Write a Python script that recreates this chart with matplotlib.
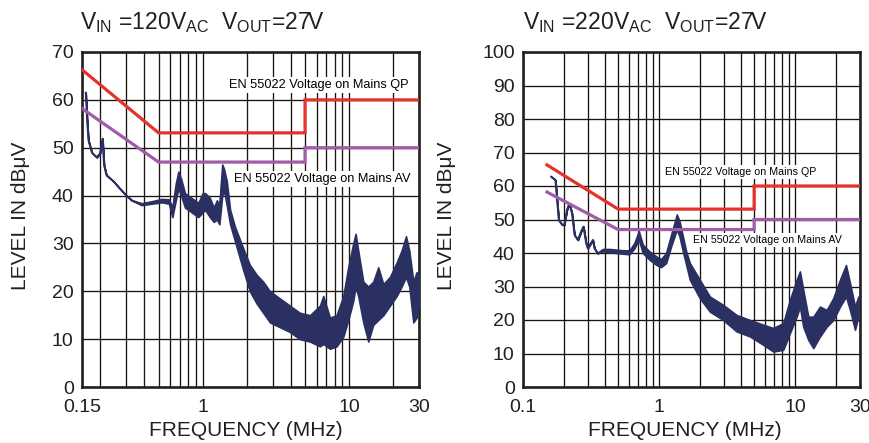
import numpy as np
import matplotlib
matplotlib.use("Agg")
import matplotlib.pyplot as plt
from matplotlib import font_manager
from matplotlib.ticker import LogLocator, NullFormatter, FixedLocator

plt.rcParams['font.family'] = ['Liberation Sans', 'DejaVu Sans']
plt.rcParams['mathtext.default'] = 'regular'

# ---------------- data ----------------
limit_freq = [0.15, 0.5, 5.0, 5.0, 30.0]
qp_limit = [66.3, 53.1, 53.1, 60.0, 60.0]
av_limit = [58.2, 47.0, 47.0, 50.0, 50.0]

left_freq = [0.159, 0.163, 0.166, 0.175, 0.189, 0.199, 0.207, 0.212, 0.220, 0.233,
             0.246, 0.266, 0.295, 0.328, 0.383, 0.448, 0.525, 0.589, 0.621, 0.655,
             0.683, 0.712, 0.757, 0.840, 0.934, 1.00, 1.04, 1.12, 1.19, 1.25,
             1.30, 1.36, 1.40, 1.46, 1.54, 1.66, 1.89, 2.10, 2.33, 2.59,
             2.88, 3.37, 3.94, 4.61, 5.40, 6.32, 6.66, 7.39, 8.21, 9.12,
             9.86, 10.67, 11.07, 11.54, 12.49, 13.51, 14.61, 15.81, 17.11, 19.00,
             21.10, 22.83, 24.44, 25.75, 27.43, 28.90, 29.80]
left_low = [61.5, 55.0, 51.5, 49.0, 48.0, 48.8, 51.9, 46.4, 44.3, 43.6,
            43.0, 41.8, 40.3, 39.0, 38.0, 38.3, 38.6, 38.3, 35.5, 39.0,
            41.5, 40.0, 37.5, 36.5, 35.5, 36.5, 37.0, 35.5, 34.5, 35.0,
            34.0, 40.0, 41.0, 38.0, 34.0, 30.5, 24.5, 20.0, 17.5, 15.5,
            13.5, 12.5, 11.5, 10.0, 9.5, 8.5, 9.0, 8.0, 8.5, 10.5,
            14.0, 18.0, 21.0, 19.0, 13.5, 9.5, 13.0, 14.0, 15.0, 17.0,
            19.0, 21.0, 23.0, 21.0, 13.5, 14.5, 17.0]
left_high = [61.5, 55.0, 51.5, 49.0, 48.0, 48.8, 51.9, 46.4, 44.3, 43.6,
             43.0, 41.8, 40.3, 39.0, 38.4, 38.8, 39.3, 39.2, 37.5, 42.5,
             45.0, 43.5, 40.5, 39.5, 38.5, 40.5, 40.5, 39.5, 37.5, 39.0,
             38.0, 46.5, 45.5, 43.0, 37.0, 33.5, 29.0, 25.5, 23.5, 22.0,
             20.0, 18.5, 17.0, 15.5, 15.0, 17.0, 19.0, 14.5, 15.0, 19.0,
             25.0, 30.0, 32.0, 28.5, 22.0, 21.0, 22.0, 25.0, 21.5, 23.0,
             26.0, 28.5, 31.5, 28.5, 22.0, 24.0, 23.5]

right_freq = [0.161, 0.173, 0.177, 0.183, 0.194, 0.201, 0.210, 0.219, 0.229, 0.239,
              0.253, 0.267, 0.278, 0.291, 0.299, 0.326, 0.335, 0.354, 0.386, 0.432,
              0.483, 0.541, 0.606, 0.659, 0.710, 0.759, 0.850, 0.952, 1.036, 1.127,
              1.227, 1.351, 1.413, 1.496, 1.583, 1.684, 1.994, 2.363, 2.961, 3.712,
              4.653, 5.833, 6.909, 8.185, 9.162, 10.26, 10.85, 11.48, 12.50, 13.61,
              15.23, 17.06, 19.09, 21.38, 23.66, 25.33, 27.56, 29.16]
right_low = [62.8, 61.8, 56.8, 49.9, 48.4, 48.4, 52.8, 54.8, 51.8, 45.4,
             43.9, 46.4, 47.9, 42.9, 41.4, 43.9, 41.4, 39.9, 40.5, 40.2,
             40.0, 39.8, 39.6, 41.4, 44.0, 40.0, 38.0, 36.5, 35.8, 37.0,
             42.0, 47.0, 45.0, 40.5, 36.5, 32.0, 26.5, 22.5, 20.0, 16.6,
             15.1, 12.6, 10.6, 11.1, 16.1, 21.0, 24.0, 18.0, 14.1, 11.6,
             15.1, 18.0, 20.0, 24.0, 27.0, 23.0, 17.1, 21.0]
right_high = [62.8, 61.8, 56.8, 49.9, 48.4, 48.4, 52.8, 54.8, 51.8, 45.4,
              43.9, 46.4, 47.9, 42.9, 41.4, 43.9, 41.4, 39.9, 41.2, 41.2,
              41.0, 40.8, 40.8, 43.0, 46.5, 42.5, 40.5, 39.0, 38.2, 40.0,
              45.5, 51.5, 49.5, 45.0, 40.5, 37.0, 32.0, 27.0, 24.5, 21.5,
              20.0, 18.6, 17.6, 19.1, 26.0, 32.0, 34.5, 29.0, 21.0, 21.0,
              24.0, 23.0, 26.5, 32.0, 36.4, 31.0, 24.0, 27.0]

titles = [r'$V_{IN}$ =120$V_{AC}$  $V_{OUT}$=27V', r'$V_{IN}$ =220$V_{AC}$  $V_{OUT}$=27V']
qp_label = 'EN 55022 Voltage on Mains QP'
av_label = 'EN 55022 Voltage on Mains AV'

# ---------------- style ----------------
RED = '#E5322B'
PURPLE = '#A05CA8'
NAVY = '#2B3062'
GRID = '#1c1410'

names = {f.name for f in font_manager.fontManager.ttflist}
if 'Liberation Sans Narrow' in names:
    lab_family = ['Liberation Sans Narrow', 'DejaVu Sans']
    lab_sizes = (11.0, 9.3)
else:
    lab_family = ['Liberation Sans', 'DejaVu Sans']
    lab_sizes = (9.2, 7.7)

W, H = 870, 443
fig = plt.figure(figsize=(W / 100, H / 100), dpi=100)
ax1 = fig.add_axes([82 / W, 56 / H, 337 / W, 335 / H])
ax2 = fig.add_axes([523 / W, 56 / H, 337 / W, 335 / H])


def style(ax, xmin, xmax, ymax, xticks, xticklabels):
    ax.set_xscale('log')
    ax.set_xlim(xmin, xmax)
    ax.set_ylim(0, ymax)
    ax.xaxis.set_major_locator(FixedLocator(xticks))
    ax.set_xticklabels(xticklabels)
    ax.xaxis.set_minor_locator(LogLocator(base=10, subs=np.arange(2, 10)))
    ax.xaxis.set_minor_formatter(NullFormatter())
    ax.set_yticks(np.arange(0, ymax + 1, 10))
    ax.grid(which='both', axis='x', color=GRID, lw=0.95, zorder=1)
    ax.grid(which='major', axis='y', color=GRID, lw=0.95, zorder=1)
    ax.set_axisbelow(True)
    ax.tick_params(which='both', length=0, labelsize=14, colors='#231f20')
    ax.tick_params(axis='x', pad=9)
    ax.tick_params(axis='y', pad=6)
    for s in ax.spines.values():
        s.set_linewidth(1.9)
        s.set_color('#231f20')


style(ax1, 0.15, 30, 70, [0.15, 1, 10, 30], ['0.15', '1', '10', '30'])
style(ax2, 0.1, 30, 100, [0.1, 1, 10, 30], ['0.1', '1', '10', '30'])

for ax, f, lo, hi in [(ax1, left_freq, left_low, left_high),
                      (ax2, right_freq, right_low, right_high)]:
    lo = np.array(lo)
    hi = np.array(hi)
    ax.fill_between(f, lo, hi, color=NAVY, lw=1.2, zorder=3)
    ax.plot(f, (lo + hi) / 2, color=NAVY, lw=1.3, zorder=3)
    ax.plot(limit_freq, qp_limit, color=RED, lw=2.3, zorder=4, solid_joinstyle='miter')
    ax.plot(limit_freq, av_limit, color=PURPLE, lw=2.3, zorder=4, solid_joinstyle='miter')

bbox = dict(fc='white', ec='none', pad=1.5)
ax1.text(0.702, 0.901, qp_label, transform=ax1.transAxes, ha='center', va='center',
         family=lab_family, fontsize=lab_sizes[0], bbox=bbox, zorder=5)
ax1.text(0.712, 0.621, av_label, transform=ax1.transAxes, ha='center', va='center',
         family=lab_family, fontsize=lab_sizes[0], bbox=bbox, zorder=5)
ax2.text(0.647, 0.642, qp_label, transform=ax2.transAxes, ha='center', va='center',
         family=lab_family, fontsize=lab_sizes[1], bbox=bbox, zorder=5)
ax2.text(0.7255, 0.439, av_label, transform=ax2.transAxes, ha='center', va='center',
         family=lab_family, fontsize=lab_sizes[1], bbox=bbox, zorder=5)

txtc = '#231f20'
fig.text(80 / W, 1 - 29 / H, titles[0], fontsize=16.5, color=txtc, va='baseline', ha='left')
fig.text(523 / W, 1 - 29 / H, titles[1], fontsize=16.5, color=txtc, va='baseline', ha='left')
fig.text(246 / W, 1 - 431 / H, 'FREQUENCY (MHz)', fontsize=15, color=txtc, ha='center', va='center')
fig.text(685 / W, 1 - 431 / H, 'FREQUENCY (MHz)', fontsize=15, color=txtc, ha='center', va='center')
fig.text(21 / W, 1 - 216 / H, 'LEVEL IN dBμV', fontsize=15, color=txtc, rotation=90, ha='center', va='center')
fig.text(447 / W, 1 - 216 / H, 'LEVEL IN dBμV', fontsize=15, color=txtc, rotation=90, ha='center', va='center')

fig.savefig('out.png', dpi=100)
